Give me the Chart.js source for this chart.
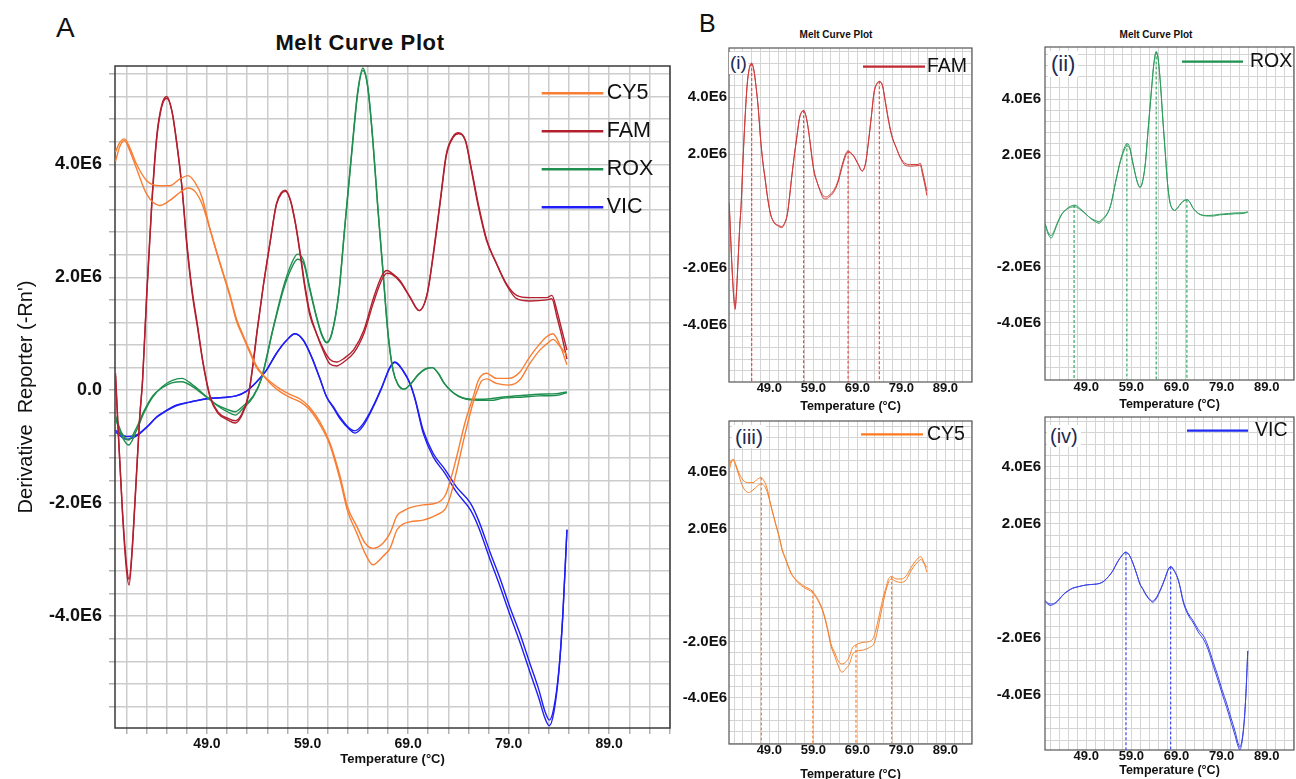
<!DOCTYPE html>
<html>
<head>
<meta charset="utf-8">
<script src="https://cdn.jsdelivr.net/npm/chart.js@4.4.1/dist/chart.umd.min.js"></script>
<style>
  html, body { margin: 0; padding: 0; background: #fff; }
  body { position: relative; width: 1296px; height: 779px; overflow: hidden; font-family: 'Liberation Sans', Arial, sans-serif; color: #111; }
  canvas { position: absolute; }
  .t { position: absolute; white-space: nowrap; line-height: 1; }
  .tag { position: absolute; white-space: nowrap; background: #fff; color: #1d2a52; z-index: 2; }
</style>
</head>
<body>
<div class="t" style="left:56px;top:14px;font-size:28px;">A</div>
<div class="t" style="left:699px;top:11px;font-size:25px;">B</div>
<div class="t" style="left:260px;top:32px;width:200px;text-align:center;font-size:22px;font-weight:bold;letter-spacing:0.6px;">Melt Curve Plot</div>
<div class="t" style="left:786px;top:30px;width:100px;text-align:center;font-size:10px;font-weight:bold;">Melt Curve Plot</div>
<div class="t" style="left:1106px;top:30px;width:100px;text-align:center;font-size:10px;font-weight:bold;">Melt Curve Plot</div>

<canvas id="chartA" width="672" height="729" style="left:0px;top:46px;"></canvas>
<canvas id="chartB1" width="294" height="388" style="left:680px;top:28px;"></canvas>
<canvas id="chartB2" width="300" height="387" style="left:996px;top:27px;"></canvas>
<canvas id="chartB3" width="294" height="383" style="left:680px;top:401px;"></canvas>
<canvas id="chartB4" width="300" height="383" style="left:996px;top:397px;"></canvas>

<div class="tag" style="left:729px;top:52px;font-size:19px;line-height:22px;padding:0 1px;">(i)</div>
<div class="tag" style="left:1048px;top:51px;font-size:22px;line-height:26px;padding:0 3px;">(ii)</div>
<div class="tag" style="left:732px;top:425px;font-size:21px;line-height:23px;padding:0 3px;">(iii)</div>
<div class="tag" style="left:1047px;top:425px;font-size:20px;line-height:22px;padding:0 3px;">(iv)</div>

<script>
Chart.defaults.font.family = "'Liberation Sans', Arial, sans-serif";
Chart.defaults.color = '#111';

// derivative values in units of 1E6, temperatures in °C; A/B = the two replicate traces
const famT = [39.9, 40.2, 40.6, 41.0, 41.25, 41.5, 41.9, 42.3, 42.6, 43.0, 43.5, 44.0, 44.5, 45.0, 45.5, 46.0, 46.5, 47.0, 47.5, 48.1,
  48.6, 49.3, 50.1, 51.1, 51.8, 52.4, 53.1, 53.6, 54.0, 54.6, 55.3, 55.9, 56.4, 56.8, 57.3, 57.8, 58.3, 58.7, 59.2, 59.9,
  60.6, 61.2, 61.9, 62.6, 63.6, 64.6, 65.5, 66.4, 66.9, 67.4, 68.2, 69.2, 70.1, 70.9, 71.5, 72.2, 72.8, 73.5, 74.0, 74.7,
  75.3, 76.0, 76.8, 77.8, 78.8, 79.8, 81.1, 82.8, 83.3, 83.8, 84.3, 84.8];
const famA = [0.3, -0.8, -2.2, -3.2, -3.45, -3.0, -1.8, -0.5, 0.2, 1.7, 3.3, 4.5, 5.05, 5.2, 4.95, 4.35, 3.6, 2.55, 1.75, 1.06,
  0.48, -0.12, -0.41, -0.53, -0.58, -0.47, -0.12, 0.48, 1.06, 1.85, 2.65, 3.3, 3.5, 3.54, 3.36, 2.94, 2.36, 1.85, 1.35, 1.0,
  0.72, 0.55, 0.5, 0.56, 0.72, 1.06, 1.6, 2.03, 2.12, 2.07, 1.94, 1.65, 1.41, 1.71, 2.41, 3.36, 4.18, 4.5, 4.56, 4.42,
  3.89, 3.24, 2.65, 2.24, 1.88, 1.68, 1.64, 1.64, 1.68, 1.41, 1.06, 0.71];
const famB = [0.25, -0.85, -2.15, -3.1, -3.35, -2.95, -1.75, -0.5, 0.2, 1.65, 3.25, 4.45, 5.02, 5.17, 4.95, 4.38, 3.62, 2.6, 1.8, 1.1,
  0.5, -0.1, -0.39, -0.5, -0.54, -0.44, -0.1, 0.5, 1.08, 1.85, 2.65, 3.28, 3.48, 3.52, 3.36, 2.96, 2.4, 1.9, 1.4, 1.0,
  0.68, 0.47, 0.43, 0.5, 0.66, 1.0, 1.52, 1.96, 2.07, 2.05, 1.92, 1.64, 1.41, 1.7, 2.38, 3.33, 4.15, 4.48, 4.54, 4.42,
  3.92, 3.28, 2.68, 2.24, 1.86, 1.62, 1.58, 1.6, 1.62, 1.3, 0.95, 0.55];

const cy5T = [39.9, 40.3, 40.8, 41.3, 42.0, 43.0, 44.3, 45.3, 46.3, 47.1, 47.8, 48.5, 49.3, 50.0, 50.6, 51.3, 51.9, 52.6, 53.3, 53.9,
  54.6, 55.3, 56.3, 57.3, 58.3, 59.2, 60.2, 61.2, 62.2, 63.0, 63.9, 64.7, 65.5, 66.5, 67.2, 67.9, 68.5, 69.2, 70.5, 71.8,
  72.7, 73.2, 73.8, 74.7, 75.5, 76.0, 76.3, 76.8, 77.8, 79.0, 80.1, 81.1, 82.1, 82.8, 83.4, 84.1, 84.8];
const cy5A = [4.22, 4.38, 4.45, 4.3, 4.0, 3.71, 3.62, 3.62, 3.74, 3.8, 3.68, 3.42, 2.85, 2.41, 2.06, 1.65, 1.24, 0.94, 0.65, 0.41,
  0.26, 0.15, 0.02, -0.08, -0.16, -0.3, -0.55, -0.92, -1.5, -2.08, -2.41, -2.7, -2.8, -2.71, -2.53, -2.22, -2.14, -2.08, -2.03, -2.0,
  -1.86, -1.6, -1.2, -0.55, -0.1, 0.18, 0.26, 0.3, 0.21, 0.21, 0.32, 0.59, 0.82, 0.95, 1.0, 0.8, 0.45];
const cy5B = [4.05, 4.3, 4.42, 4.25, 3.92, 3.47, 3.27, 3.36, 3.5, 3.58, 3.52, 3.3, 2.85, 2.43, 2.08, 1.68, 1.28, 0.97, 0.68, 0.44,
  0.26, 0.12, -0.03, -0.13, -0.21, -0.34, -0.6, -0.96, -1.56, -2.15, -2.53, -2.88, -3.09, -2.94, -2.8, -2.47, -2.37, -2.33, -2.3, -2.21,
  -2.1, -1.88, -1.45, -0.75, -0.2, 0.05, 0.16, 0.2, 0.12, 0.09, 0.18, 0.47, 0.71, 0.82, 0.9, 0.78, 0.62];

const roxT = [39.9, 40.5, 41.2, 42.0, 42.7, 43.6, 44.6, 45.5, 46.5, 47.6, 49.0, 50.0, 51.0, 51.8, 52.6, 53.6, 54.4, 55.6, 56.6, 57.4,
  58.0, 58.6, 59.2, 59.9, 60.4, 60.9, 61.4, 62.1, 62.7, 63.4, 64.0, 64.5, 65.0, 65.5, 66.0, 66.5, 67.0, 67.5, 68.0, 68.6,
  69.3, 70.0, 70.7, 71.4, 72.0, 72.6, 73.2, 74.0, 74.8, 76.0, 77.2, 78.5, 80.5, 82.0, 83.8, 84.8];
const roxA = [-0.5, -0.8, -0.97, -0.71, -0.41, -0.12, 0.07, 0.17, 0.21, 0.09, -0.12, -0.27, -0.38, -0.44, -0.32, -0.12, 0.2, 1.12, 1.83, 2.24,
  2.41, 2.3, 1.83, 1.3, 1.0, 0.85, 1.0, 1.71, 2.89, 4.24, 5.3, 5.7, 5.36, 4.4, 3.2, 2.1, 1.0, 0.35, 0.1, 0.02,
  0.12, 0.28, 0.38, 0.4, 0.3, 0.12, 0.0, -0.1, -0.15, -0.16, -0.15, -0.12, -0.09, -0.07, -0.06, -0.03];
const roxB = [-0.45, -0.75, -0.88, -0.66, -0.38, -0.1, 0.05, 0.13, 0.15, 0.06, -0.13, -0.26, -0.34, -0.38, -0.28, -0.1, 0.2, 1.1, 1.78, 2.16,
  2.32, 2.25, 1.8, 1.28, 0.98, 0.84, 0.99, 1.7, 2.87, 4.2, 5.27, 5.66, 5.35, 4.42, 3.22, 2.12, 1.02, 0.36, 0.1, 0.02,
  0.12, 0.27, 0.37, 0.4, 0.3, 0.12, 0.0, -0.11, -0.16, -0.18, -0.18, -0.14, -0.12, -0.1, -0.09, -0.04];

const vicT = [39.9, 41.0, 42.0, 43.0, 44.0, 45.0, 46.0, 47.3, 49.0, 50.6, 51.9, 52.9, 53.9, 54.9, 55.9, 56.9, 57.75, 58.6, 59.4, 60.2,
  60.9, 61.6, 62.2, 63.2, 63.7, 64.5, 65.5, 66.4, 67.2, 67.7, 68.5, 69.2, 69.7, 70.5, 71.5, 72.7, 73.8, 75.2, 76.0, 77.2,
  78.2, 79.1, 80.1, 81.1, 82.0, 82.6, 83.05, 83.5, 84.0, 84.4, 84.8];
const vicA = [-0.71, -0.82, -0.79, -0.65, -0.47, -0.35, -0.26, -0.21, -0.15, -0.13, -0.1, -0.02, 0.14, 0.35, 0.65, 0.88, 1.0, 0.88, 0.59, 0.22,
  -0.12, -0.3, -0.47, -0.68, -0.72, -0.6, -0.29, 0.06, 0.41, 0.5, 0.35, 0.12, -0.15, -0.71, -1.12, -1.41, -1.71, -2.0, -2.3, -2.89,
  -3.36, -3.83, -4.3, -4.83, -5.3, -5.68, -5.84, -5.62, -4.95, -3.95, -2.47];
const vicB = [-0.74, -0.87, -0.81, -0.66, -0.48, -0.36, -0.27, -0.21, -0.15, -0.13, -0.1, -0.02, 0.14, 0.35, 0.65, 0.88, 1.0, 0.88, 0.59, 0.22,
  -0.12, -0.32, -0.5, -0.7, -0.76, -0.64, -0.31, 0.05, 0.4, 0.49, 0.34, 0.11, -0.17, -0.76, -1.18, -1.48, -1.8, -2.12, -2.42, -3.02,
  -3.5, -3.96, -4.45, -4.98, -5.45, -5.8, -5.94, -5.7, -4.98, -3.95, -2.47];

// melt peaks marked with dashed lines in panel B
const famPeakT = [45.0, 56.8, 66.9, 74.0];
const famPeakV = [5.2, 3.54, 2.12, 4.56];
const roxPeakT = [46.3, 58.0, 64.5, 71.3];
const roxPeakV = [0.21, 2.41, 5.7, 0.4];
const cy5PeakT = [47.2, 58.9, 68.7, 76.8];
const cy5PeakV = [3.8, -0.2, -2.12, 0.3];
const vicPeakT = [57.8, 67.7];
const vicPeakV = [1.0, 0.5];

// axis labels
const xLabelTemps = [49, 59, 69, 79, 89];
const yLabelsA = [-4, -2, 0, 2, 4];
const yLabelsB = [-4, -2, 2, 4];

const xGrid = [];
for (let t = 41; t <= 95; t += 2) xGrid.push(t);
const yGrid = [];
for (let k = -14; k <= 14; k++) yGrid.push(k * 0.4);

const xLabel = v => xLabelTemps.some(t => Math.abs(t - v) < 0.01) ? v.toFixed(1) : '';
const yLabel = list => v => {
  const r = Math.round(v * 10) / 10;
  if (!list.some(l => Math.abs(l - r) < 0.01)) return '';
  return r === 0 ? '0.0' : r.toFixed(1) + 'E6';
};

const frame = {
  id: 'frame',
  beforeDatasetsDraw(chart, args, o) {
    const a = chart.chartArea, ctx = chart.ctx;
    ctx.save();
    ctx.strokeStyle = o.color || '#333';
    ctx.lineWidth = o.width || 1;
    ctx.strokeRect(a.left, a.top, a.right - a.left, a.bottom - a.top);
    ctx.restore();
  }
};

// legend drawn inside the plot area
const keyBox = {
  id: 'keyBox',
  afterDatasetsDraw(chart, args, o) {
    if (!o.len) return;
    const {ctx, chartArea: a} = chart;
    ctx.save();
    ctx.font = o.size + "px 'Liberation Sans', Arial, sans-serif";
    ctx.textBaseline = 'middle';
    ctx.fillStyle = '#111';
    let y = a.top + o.y;
    chart.data.datasets.filter(d => d.inLegend).forEach(d => {
      const x = a.left + o.x;
      ctx.strokeStyle = d.keyColor || d.borderColor;
      ctx.lineWidth = o.lw;
      ctx.beginPath();
      ctx.moveTo(x, y);
      ctx.lineTo(x + o.len, y);
      ctx.stroke();
      ctx.fillText(d.label, x + o.len + o.gap, y);
      y += o.step;
    });
    ctx.restore();
  }
};
Chart.register(frame, keyBox);

const pts = (t, v) => t.map((x, i) => ({ x, y: v[i] }));

function panel(id, p) {
  const datasets = [];
  p.series.forEach(s => {
    datasets.push({ label: s.name, inLegend: true, keyColor: s.key, data: pts(s.t, s.a), borderColor: s.color, borderWidth: p.lw });
    datasets.push({ label: s.name, data: pts(s.t, s.b), borderColor: s.color, borderWidth: p.lw });
  });
  if (p.peakT) {
    p.peakT.forEach((t, i) => {
      datasets.push({
        label: 'peak', data: [{ x: t, y: p.peakV[i] }, { x: t, y: p.ymin }],
        borderColor: p.peakColor, borderWidth: 1.2, borderDash: [3, 2],
        cubicInterpolationMode: 'default', tension: 0
      });
    });
  }

  return new Chart(document.getElementById(id), {
    type: 'line',
    data: { datasets },
    options: {
      responsive: false,
      animation: false,
      events: [],
      layout: { padding: { top: 20, right: 2, left: 0, bottom: 0 } },
      elements: { point: { radius: 0 }, line: { cubicInterpolationMode: 'monotone', fill: false } },
      plugins: {
        legend: { display: false },
        tooltip: { enabled: false },
        frame: { color: p.frame, width: p.frameW },
        keyBox: p.key
      },
      scales: {
        x: {
          type: 'linear', min: 39.85, max: 95.05,
          afterBuildTicks: s => { s.ticks = xGrid.map(value => ({ value })); },
          afterFit: s => { s.height = p.xh; },
          grid: { color: p.grid, lineWidth: p.gw, drawTicks: p.tick > 0, tickLength: p.tick, tickColor: '#b0b0b0' },
          border: { display: false },
          ticks: { autoSkip: false, maxRotation: 0, minRotation: 0, padding: p.xPad, color: '#111',
                   font: { size: p.xFont, weight: 'bold', lineHeight: p.xLh }, callback: xLabel },
          title: { display: true, text: 'Temperature (°C)', color: '#111',
                   font: { size: p.tFont, weight: 'bold' }, padding: { top: 0, bottom: p.tPad } }
        },
        y: {
          type: 'linear', min: p.ymin, max: p.ymax,
          afterBuildTicks: s => { s.ticks = yGrid.map(value => ({ value })); },
          afterFit: s => { s.width = p.yw; },
          grid: { color: p.grid, lineWidth: p.gw, drawTicks: p.tick > 0, tickLength: p.tick, tickColor: '#b0b0b0' },
          border: { display: false },
          ticks: { autoSkip: false, padding: p.yPad, color: '#111',
                   font: { size: p.yFont, weight: 'bold' }, callback: yLabel(p.yLabels) },
          title: p.yTitle ? { display: true, text: p.yTitle, color: '#111', font: { size: 20 }, padding: { top: 14, bottom: 0 } }
                          : { display: false }
        }
      }
    }
  });
}

// panel A: all four dyes
panel('chartA', {
  series: [
    { name: 'CY5', t: cy5T, a: cy5A, b: cy5B, color: '#f97d32' },
    { name: 'FAM', t: famT, a: famA, b: famB, color: '#b2202f' },
    { name: 'ROX', t: roxT, a: roxA, b: roxB, color: '#1e8f4e' },
    { name: 'VIC', t: vicT, a: vicA, b: vicB, color: '#1f1ff5' }
  ],
  lw: 1.4, ymin: -5.98, ymax: 5.74, yw: 115, xh: 47,
  grid: '#cccccc', gw: 1.5, tick: 6, frame: '#3a3a3a', frameW: 1.5,
  xFont: 14, xLh: 1.2, xPad: 2, yFont: 18, yPad: 7, tFont: 13, tPad: 8,
  yLabels: yLabelsA, yTitle: "Derivative  Reporter (-Rn')",
  key: { x: 426.7, y: 27.3, step: 38, len: 61.6, gap: 3.4, size: 21.5, lw: 2.5 }
});

const small = {
  lw: 1, yw: 49, grid: '#d4d4d4', gw: 1, tick: 0, frame: '#555555', frameW: 1.2,
  xFont: 13, xLh: 1, yFont: 15, tFont: 12.5, tPad: 1.5, yLabels: yLabelsB
};

panel('chartB1', Object.assign({}, small, {
  series: [{ name: 'FAM', t: famT, a: famA, b: famB, color: '#cf3b3b', key: '#c0282f' }],
  peakT: famPeakT, peakV: famPeakV, peakColor: '#ec4a44',
  ymin: -6.0, ymax: 5.73, xh: 34, xPad: 0, yPad: 2,
  key: { x: 134, y: 18.7, step: 0, len: 62, gap: 2, size: 19.5, lw: 2.3 }
}));

panel('chartB2', Object.assign({}, small, {
  series: [{ name: 'ROX', t: roxT, a: roxA, b: roxB, color: '#2e9d5c', key: '#1d9150' }],
  peakT: roxPeakT, peakV: roxPeakV, peakColor: '#3aa863',
  ymin: -6.04, ymax: 5.86, xh: 34, xPad: 1, yPad: 4,
  key: { x: 137, y: 14.7, step: 0, len: 61, gap: 7, size: 19.5, lw: 2.3 }
}));

panel('chartB3', Object.assign({}, small, {
  series: [{ name: 'CY5', t: cy5T, a: cy5A, b: cy5B, color: '#f5822f', key: '#ff7a1f' }],
  peakT: cy5PeakT, peakV: cy5PeakV, peakColor: '#fa8032',
  ymin: -5.63, ymax: 5.8, xh: 40, xPad: 0, yPad: 2,
  key: { x: 132, y: 13.3, step: 0, len: 62, gap: 4, size: 19.5, lw: 2.3 }
}));

panel('chartB4', Object.assign({}, small, {
  series: [{ name: 'VIC', t: vicT, a: vicA, b: vicB, color: '#3a44e8', key: '#1f2bf0' }],
  peakT: vicPeakT, peakV: vicPeakV, peakColor: '#3848f0',
  ymin: -5.95, ymax: 5.75, xh: 30, xPad: 0, yPad: 4,
  key: { x: 142, y: 13.7, step: 0, len: 61, gap: 7, size: 19.5, lw: 2.3 }
}));
</script>
</body>
</html>
